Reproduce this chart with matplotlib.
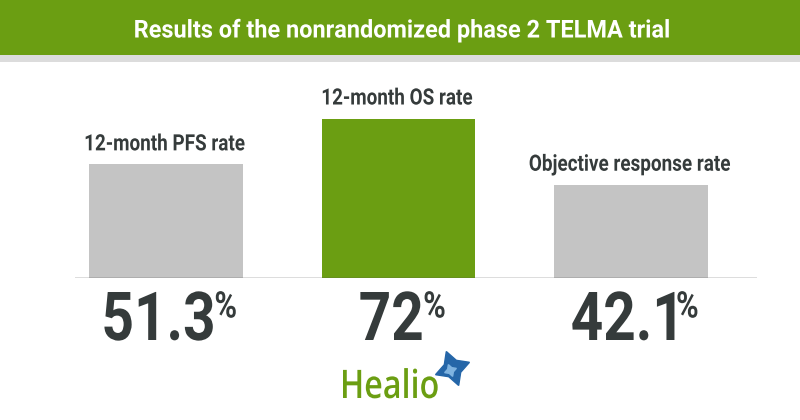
import matplotlib.pyplot as plt
from matplotlib.patches import Rectangle, PathPatch
from matplotlib.textpath import TextPath
from matplotlib.font_manager import FontProperties
from matplotlib.transforms import Affine2D
from matplotlib.lines import Line2D

# data
categories = ["12-month PFS rate", "12-month OS rate", "Objective response rate"]
values = [51.3, 72, 42.1]
value_labels = ["51.3", "72", "42.1"]
bar_colors = ["#c4c4c4", "#6b9e12", "#c4c4c4"]

title = "Results of the nonrandomized phase 2 TELMA trial"
green = "#6b9e12"
dark = "#353b3b"
bold = FontProperties(family="Roboto", weight="bold")
logo_font = FontProperties(family="Open Sans", weight="semibold")

W, H = 800, 420
fig = plt.figure(figsize=(8, 4.2), dpi=100)
fig.patch.set_facecolor("white")


def ctext(x, y, s, cap, sx=1.0, color=dark, prop=bold, ha="center"):
    """Narrowed text drawn as a path. x, y in pixels (y from the top, baseline)."""
    tp = TextPath((0, 0), s, size=cap / 0.711, prop=prop)
    ext = tp.get_extents()
    w = ext.width * sx
    if ha == "center":
        x0 = x - w / 2
    elif ha == "left":
        x0 = x
    else:
        x0 = x - w
    tr = Affine2D().scale(sx, 1).translate(x0 - ext.x0 * sx, H - y)
    fig.add_artist(PathPatch(tp, transform=tr, facecolor=color, edgecolor="none"))
    return w


def text_width(s, cap, sx=1.0, prop=bold):
    return TextPath((0, 0), s, size=cap / 0.711, prop=prop).get_extents().width * sx


# header band + grey strip under it
fig.patches.append(Rectangle((0, 1 - 55 / H), 1, 55 / H, transform=fig.transFigure,
                             facecolor=green, edgecolor="none", zorder=0))
fig.patches.append(Rectangle((0, 1 - 62 / H), 1, 7 / H, transform=fig.transFigure,
                             facecolor="#dcdcdc", edgecolor="none", zorder=0))
ctext(402, 37.5, title, 17.5, sx=0.955, color="white")

# bar axes: baseline at y=278px
ax = fig.add_axes([75 / W, 1 - 278 / H, 682 / W, 175 / H])
x = [0, 1, 2]
ax.bar(x, values, width=0.66, color=bar_colors, zorder=2)
ax.set_xlim(-0.392, 2.543)
ax.set_ylim(0, 79)
ax.axis("off")
ax.axhline(0, color="#555555", lw=1, zorder=3)

for xi, v, cat in zip(x, values, categories):
    bx, by = ax.transData.transform((xi, v))
    ctext(bx - 1, H - by - 14, cat, 16, sx=0.84)

# big numbers under the baseline, % as superscript
for xi, lab in zip(x, value_labels):
    bx, _ = ax.transData.transform((xi, 0))
    wd = text_width(lab, 48, 0.84)
    wp = text_width("%", 26, 0.84)
    left = bx + 4 - (wd + 3 + wp) / 2
    ctext(left, 340, lab, 48, sx=0.84, ha="left")
    ctext(left + wd + 3, 292 + 26 * 0.98, "%", 26, sx=0.84, ha="left")

# Healio logo
ctext(343, 398, "Healio", 28, sx=0.82, color="#6b9e12", prop=logo_font, ha="left")
fig.add_artist(Line2D([452 / W], [1 - 368 / H], transform=fig.transFigure,
                      marker=(4, 1, 20), markersize=26, color="#2566a8",
                      markeredgecolor="#2566a8", linestyle="none"))
fig.add_artist(Line2D([450 / W], [1 - 370 / H], transform=fig.transFigure,
                      marker=(4, 1, 20), markersize=9, color="#7fb3e0",
                      markeredgecolor="#7fb3e0", linestyle="none"))

fig.savefig("out.png", dpi=100, facecolor="white")
